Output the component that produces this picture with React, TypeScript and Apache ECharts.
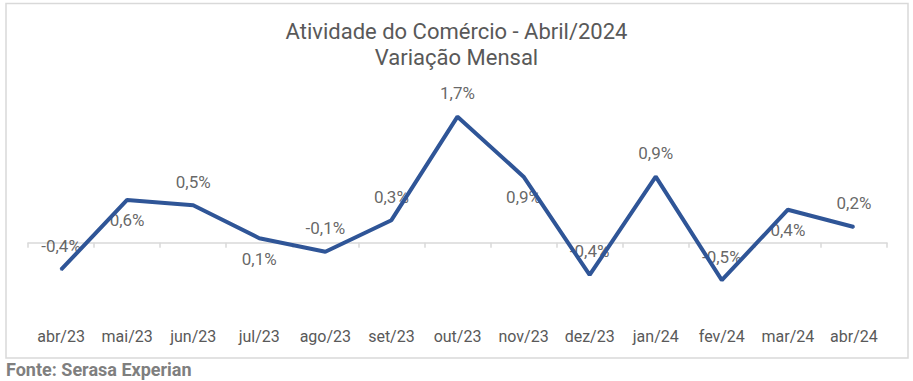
import React, { useEffect, useRef } from "react";
import * as echarts from "echarts";

const categories = ["abr/23","mai/23","jun/23","jul/23","ago/23","set/23","out/23","nov/23","dez/23","jan/24","fev/24","mar/24","abr/24"];
const values = [-0.36, 0.57, 0.5, 0.06, -0.12, 0.3, 1.68, 0.88, -0.43, 0.88, -0.5, 0.44, 0.21];
const labelPositions = ["top","bottom","top","bottom","top","top","top","bottom","top","top","top","bottom","top"];
const titleLines = ["Atividade do Comércio - Abril/2024", "Variação Mensal"];
const sourceText = "Fonte: Serasa Experian";

export default function App() {
  const ref = useRef<HTMLDivElement>(null);
  useEffect(() => {
    const chart = echarts.init(ref.current!, null, { renderer: "svg" });
    const fmt = (v: number) => v.toFixed(1).replace(".", ",") + "%";
    chart.setOption({
      animation: false,
      textStyle: { fontFamily: "Roboto" },
      title: {
        text: titleLines.join("\n"),
        left: "center",
        top: 14,
        textStyle: { fontFamily: "Roboto", fontSize: 22, fontWeight: "normal", color: "#595959", lineHeight: 25.5 },
      },
      grid: { left: 28, right: 26, top: 92.7, bottom: 381 - 317.7 },
      xAxis: [
        {
          type: "category",
          data: categories,
          position: "bottom",
          boundaryGap: true,
          axisLine: { show: false, onZero: false },
          axisTick: { show: false },
          axisLabel: { color: "#595959", fontSize: 16, fontFamily: "Roboto", margin: 11, interval: 0 },
        },
        {
          type: "category",
          data: categories,
          position: "top",
          boundaryGap: true,
          axisLine: { show: true, onZero: true, lineStyle: { color: "#d9d9d9", width: 1.5 } },
          axisTick: { show: true, inside: true, length: 5, alignWithLabel: false, interval: 0, lineStyle: { color: "#d9d9d9", width: 1.5 } },
          axisLabel: { show: false },
        },
      ],
      yAxis: {
        type: "value",
        min: -1,
        max: 2,
        show: false,
        splitLine: { show: false },
      },
      series: [
        {
          type: "scatter",
          xAxisIndex: 0,
          z: 1,
          data: values.map((v, i) => ({
            value: v,
            label: { show: true, position: labelPositions[i], distance: labelPositions[i] === "top" ? 14 : 11 },
          })),
          symbol: "circle",
          symbolSize: 2,
          itemStyle: { color: "#2F5597" },
          label: {
            show: true,
            fontSize: 17,
            fontFamily: "Roboto",
            color: "#404040",
            formatter: (p: any) => fmt(Number(p.value)),
          },
        },
        {
          type: "line",
          xAxisIndex: 0,
          z: 5,
          data: values,
          symbol: "none",
          lineStyle: { color: "#2F5597", width: 4 },
        },
      ],
      graphic: [
        {
          type: "rect",
          shape: { x: 6, y: 3.5, width: 902, height: 354.5 },
          style: { fill: "none", stroke: "#d9d9d9", lineWidth: 1.5 },
          silent: true,
        },
        {
          type: "text",
          x: 6,
          y: 369,
          style: { text: sourceText, fontFamily: "Roboto", fontSize: 18, fontWeight: "bold", fill: "#7f7f7f", verticalAlign: "middle", align: "left" },
        },
      ],
    });
    return () => chart.dispose();
  }, []);
  return <div ref={ref} style={{ position: "fixed", left: 0, top: 0, width: 913, height: 381, background: "#fff" }} />;
}
